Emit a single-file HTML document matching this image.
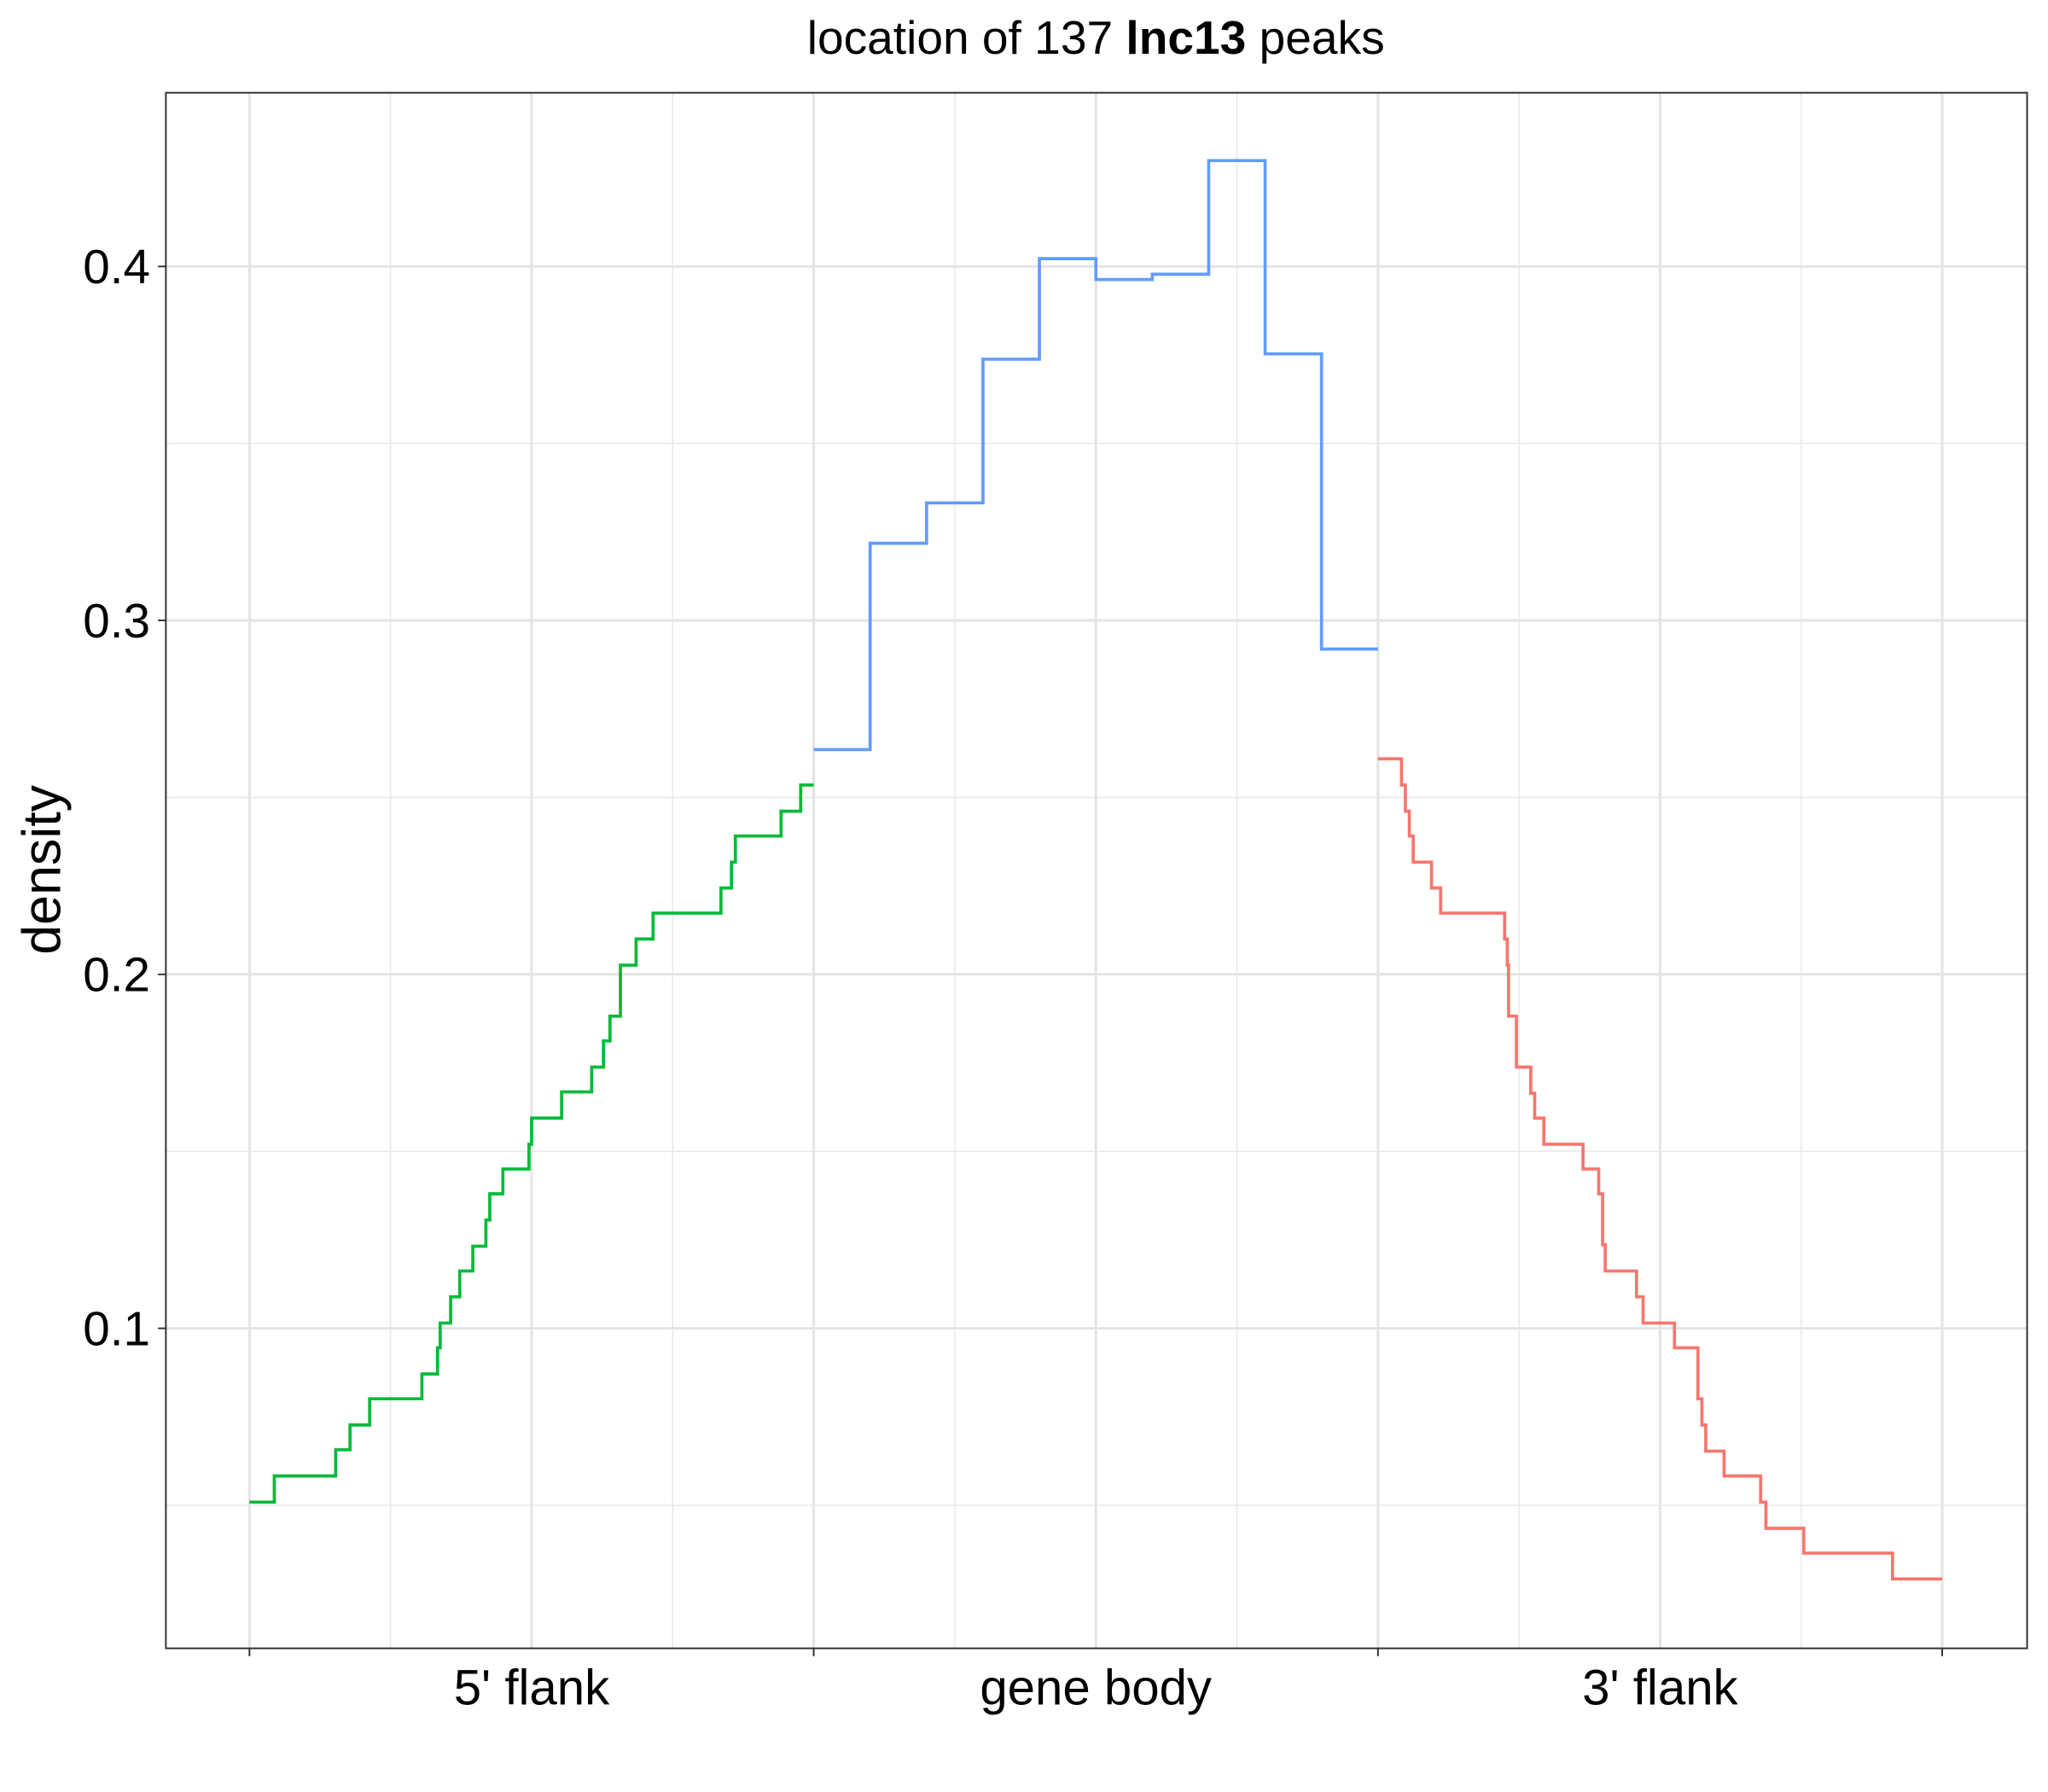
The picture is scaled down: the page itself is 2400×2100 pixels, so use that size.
<!DOCTYPE html>
<html><head><meta charset="utf-8"><style>
html,body{margin:0;padding:0;background:#fff;}
svg{display:block;font-family:"Liberation Sans",Arial,sans-serif;}
</style></head><body>
<svg id="chart" width="2400" height="2100" viewBox="0 0 1568 1372" xmlns="http://www.w3.org/2000/svg">
<rect x="0" y="0" width="1568" height="1372" fill="#fff"/>
<text x="839" y="41" text-anchor="middle" font-size="36" fill="#000">location of 137 <tspan font-weight="bold">lnc13</tspan> peaks</text>
<g id="grid"></g>
<g id="marks"></g>
<rect x="127" y="71" width="1425" height="1191" fill="none" stroke="#333" stroke-width="1.3"/>
<g id="axes"></g>
<text transform="translate(46,666) rotate(-90)" text-anchor="middle" font-size="41" fill="#000">density</text>
</svg>
<script>
const yTicks = [0.1, 0.2, 0.3, 0.4];
const yTickLabels = ["0.1", "0.2", "0.3", "0.4"];
const yMinor = [0.05, 0.15, 0.25, 0.35];
const xTicks = [0, 1, 2, 3];
const xMinor = [0.25, 0.75, 1.25, 1.75, 2.25, 2.75];
const xCategories = ["5' flank", "gene body", "3' flank"];
const xCategoryPos = [0.5, 1.5, 2.5];

const flank5Breaks = [0, 0.044, 0.1528, 0.1782, 0.2130, 0.3056, 0.3333, 0.3380, 0.3565, 0.3727, 0.3958, 0.4190, 0.4259, 0.4491, 0.4954, 0.5, 0.5532, 0.6065, 0.6273, 0.6389, 0.6574, 0.6852, 0.7153, 0.8356, 0.8542, 0.8611, 0.9421, 0.9769, 1];
const flank5Values = [0.0509, 0.0583, 0.0657, 0.0727, 0.0801, 0.0871, 0.0945, 0.1015, 0.1089, 0.1162, 0.1232, 0.1306, 0.1380, 0.1450, 0.1520, 0.1594, 0.1668, 0.1738, 0.1812, 0.1882, 0.2026, 0.2100, 0.2173, 0.2244, 0.2317, 0.2391, 0.2461, 0.2535];

const bodyBreaks = [1, 1.1, 1.2, 1.3, 1.4, 1.5, 1.6, 1.7, 1.8, 1.9, 2];
const bodyValues = [0.2635, 0.3218, 0.3332, 0.3738, 0.4022, 0.3963, 0.3978, 0.4299, 0.3753, 0.2919];

const flank3Breaks = [2, 2.0417, 2.0486, 2.0556, 2.0625, 2.0949, 2.1111, 2.2245, 2.2292, 2.2315, 2.2454, 2.2708, 2.2778, 2.2940, 2.3634, 2.3912, 2.3981, 2.4028, 2.4583, 2.4699, 2.5255, 2.5671, 2.5741, 2.5810, 2.6134, 2.6782, 2.6875, 2.7546, 2.9120, 3];
const flank3Values = [0.2609, 0.2535, 0.2461, 0.2391, 0.2317, 0.2244, 0.2173, 0.2100, 0.2026, 0.1882, 0.1738, 0.1664, 0.1594, 0.1520, 0.1450, 0.1380, 0.1236, 0.1162, 0.1089, 0.1015, 0.0945, 0.0801, 0.0727, 0.0653, 0.0583, 0.0509, 0.0435, 0.0365, 0.0292];

const NS = "http://www.w3.org/2000/svg";
const PL = 127, PR = 1552, PT = 71, PB = 1262;
function xs(v) { return 191 + v * 432; }
function ys(v) { return 1017 - (v - 0.1) * 2710; }
function mk(tag, attrs, parent) {
  const e = document.createElementNS(NS, tag);
  for (const k in attrs) e.setAttribute(k, attrs[k]);
  parent.appendChild(e);
  return e;
}
const grid = document.getElementById('grid');
const axes = document.getElementById('axes');
const marks = document.getElementById('marks');

yMinor.forEach(v => {
  const l = mk('line', {x1: PL, x2: PR, y1: ys(v), y2: ys(v), stroke: '#e8e8e8', 'stroke-width': 1}, grid);
  
  
});
xMinor.forEach(v => {
  const l = mk('line', {x1: xs(v), x2: xs(v), y1: PT, y2: PB, stroke: '#e8e8e8', 'stroke-width': 1}, grid);
  
  
});
yTicks.forEach((v, i) => {
  const l = mk('line', {x1: PL, x2: PR, y1: ys(v), y2: ys(v), stroke: '#e4e4e4', 'stroke-width': 2}, grid);
  
  
  const t = mk('line', {x1: PL - 6, x2: PL, y1: ys(v), y2: ys(v), stroke: '#333', 'stroke-width': 1.3}, axes);
  
  
  const tx = mk('text', {x: PL - 12, y: ys(v) + 13, 'text-anchor': 'end', 'font-size': 37, fill: '#000'}, axes);
  tx.textContent = yTickLabels[i];
  
  
});
xTicks.forEach(v => {
  const l = mk('line', {x1: xs(v), x2: xs(v), y1: PT, y2: PB, stroke: '#e4e4e4', 'stroke-width': 2}, grid);
  
  
  const t = mk('line', {x1: xs(v), x2: xs(v), y1: PB, y2: PB + 6, stroke: '#333', 'stroke-width': 1.3}, axes);
  
  
});
xCategoryPos.forEach((v, i) => {
  const l = mk('line', {x1: xs(v), x2: xs(v), y1: PT, y2: PB, stroke: '#e4e4e4', 'stroke-width': 2}, grid);
  
  
  const tx = mk('text', {x: xs(v), y: 1305, 'text-anchor': 'middle', 'font-size': 38, fill: '#000'}, axes);
  tx.textContent = xCategories[i];
  
  
});

function stepPath(breaks, values) {
  let d = 'M' + xs(breaks[0]) + ' ' + ys(values[0]);
  for (let i = 0; i < values.length; i++) {
    if (i > 0) d += ' V' + ys(values[i]);
    d += ' H' + xs(breaks[i + 1]);
  }
  return d;
}
const s1 = mk('path', {d: stepPath(flank5Breaks, flank5Values), fill: 'none', stroke: '#00BA38', 'stroke-width': 2.4}, marks);


const s2 = mk('path', {d: stepPath(bodyBreaks, bodyValues), fill: 'none', stroke: '#619CFF', 'stroke-width': 2.4}, marks);


const s3 = mk('path', {d: stepPath(flank3Breaks, flank3Values), fill: 'none', stroke: '#F8766D', 'stroke-width': 2.4}, marks);


</script>
</body></html>
